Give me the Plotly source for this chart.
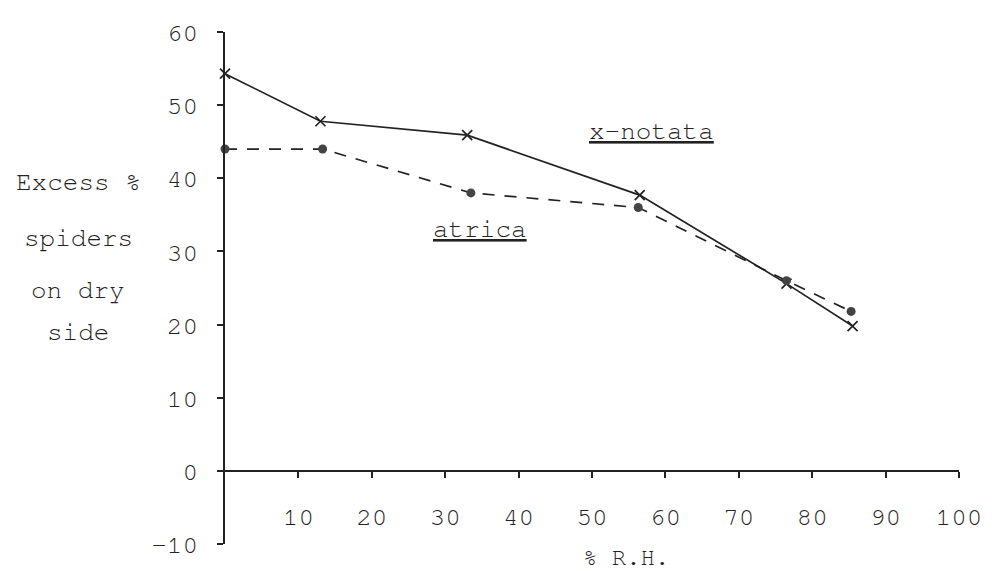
import plotly.graph_objects as go

# Data
rh_notata = [0, 13, 33, 56.5, 76.5, 85.5]
excess_notata = [54.3, 47.8, 45.9, 37.7, 25.6, 19.8]

rh_atrica = [0, 13.3, 33.5, 56.3, 76.5, 85.3]
excess_atrica = [44, 44, 38, 36, 26, 21.8]

x_ticks = [10, 20, 30, 40, 50, 60, 70, 80, 90, 100]
y_ticks = [-10, 0, 10, 20, 30, 40, 50, 60]
y_title_lines = ["Excess %", "spiders", "on dry", "side"]
y_title_levels = [39.5, 31.7, 24.6, 19.0]

FONT = "Nimbus Mono PS, FreeMono, Courier New, Liberation Mono, monospace"
INK = "#222222"
FS = 26

fig = go.Figure()
fig.add_trace(go.Scatter(
    x=rh_notata, y=excess_notata, mode="lines+markers", name="x-notata",
    line=dict(color=INK, width=1.7),
    marker=dict(symbol="x-thin", size=10, line=dict(color=INK, width=1.7)),
    cliponaxis=False, showlegend=False))
fig.add_trace(go.Scatter(
    x=rh_atrica, y=excess_atrica, mode="lines+markers", name="atrica",
    line=dict(color=INK, width=1.7, dash="12px,10px"),
    marker=dict(symbol="circle", size=9, color="#444444"),
    cliponaxis=False, showlegend=False))

annotations = []
for txt, lvl in zip(y_title_lines, y_title_levels):
    annotations.append(dict(x=-0.2, xref="paper", y=lvl, yref="y", text=txt,
                            showarrow=False, xanchor="center", yanchor="middle",
                            font=dict(family=FONT, size=FS, color=INK)))
annotations.append(dict(x=58.1, y=46.4, xref="x", yref="y", text="<u>x-notata</u>",
                        showarrow=False, font=dict(family=FONT, size=FS, color=INK)))
annotations.append(dict(x=34.8, y=33.0, xref="x", yref="y", text="<u>atrica</u>",
                        showarrow=False, font=dict(family=FONT, size=FS, color=INK)))
annotations.append(dict(x=54.6, xref="x", y=-0.028, yref="paper", text="% R.H.",
                        showarrow=False, xanchor="center", yanchor="middle",
                        font=dict(family=FONT, size=FS - 2, color=INK)))

# page body has an 8px default margin: shrink the figure and shift margins
fig.update_layout(
    width=986, height=563,
    margin=dict(l=217, r=27, t=15, b=27),
    paper_bgcolor="white", plot_bgcolor="white",
    font=dict(family=FONT, size=FS, color=INK),
    annotations=annotations,
    xaxis=dict(range=[0, 100], anchor="free", position=10 / 70,
               tickvals=x_ticks, ticktext=[str(v) for v in x_ticks],
               showline=True, linecolor=INK, linewidth=1.6,
               ticks="outside", ticklen=6, tickwidth=1.5, tickcolor=INK,
               ticklabelstandoff=16, showgrid=False, zeroline=False),
    yaxis=dict(range=[-10, 60], tickvals=y_ticks, ticktext=[str(v) for v in y_ticks],
               showline=True, linecolor=INK, linewidth=1.6,
               ticks="outside", ticklen=6, tickwidth=1.5, tickcolor=INK,
               ticklabelstandoff=14, showgrid=False, zeroline=False),
)

fig.write_html("out.html")
